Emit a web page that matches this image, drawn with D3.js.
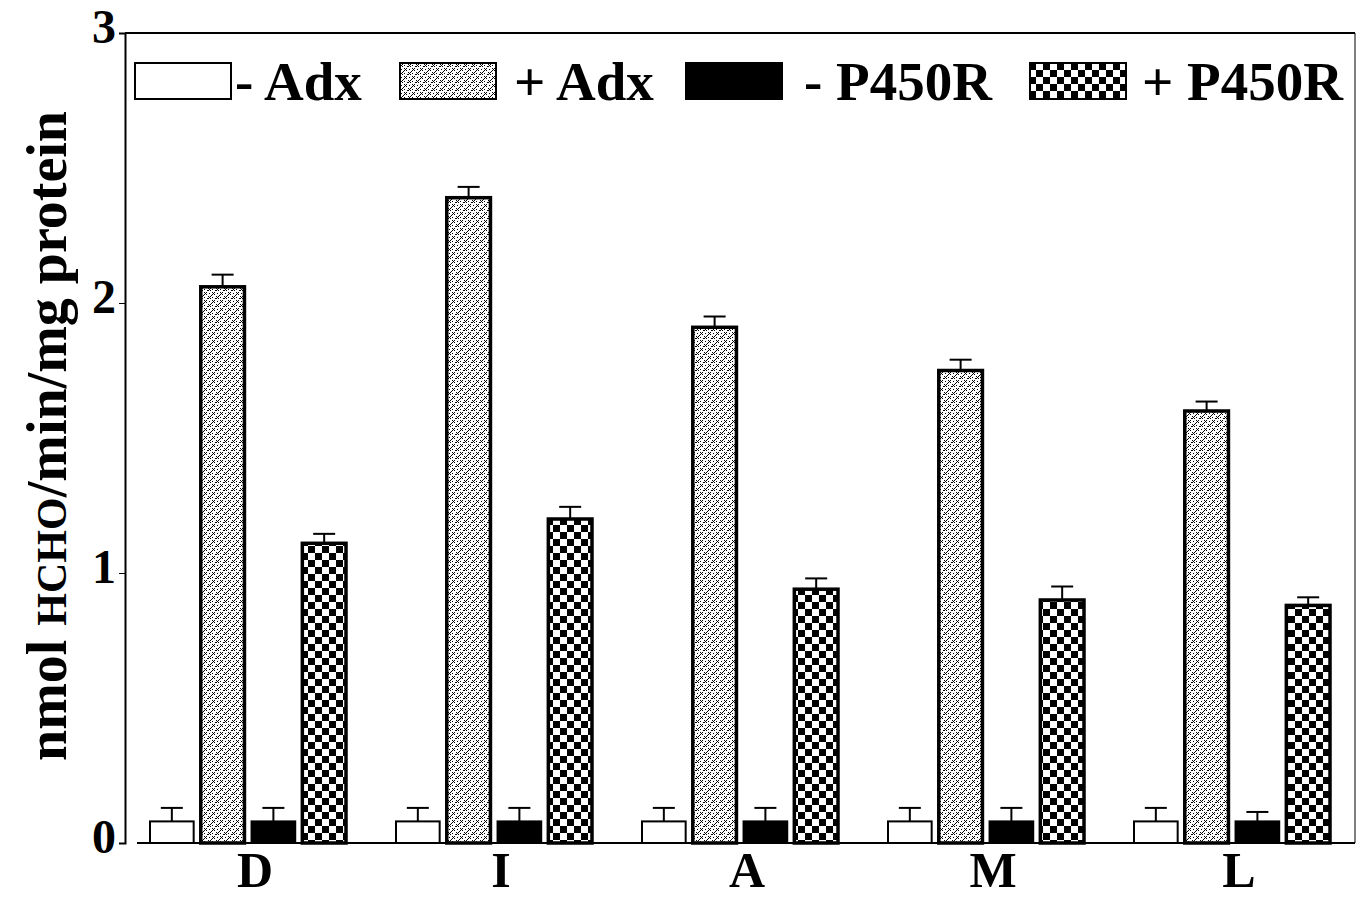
<!DOCTYPE html>
<html lang="en">
  <head>
    <meta charset="UTF-8" />
    <title>HCHO formation</title>
    <script src="https://d3js.org/d3.v7.min.js"></script>
    <style>
      body { margin: 0; background: #fff; }
      svg { display: block; }
      text { font-family: "Liberation Serif", "DejaVu Serif", serif; font-weight: bold; fill: #000; }
    </style>
  </head>
  <body>
    <script>
      // data
      const groups = ["D", "I", "A", "M", "L"];
      const seriesNames = ["- Adx", "+ Adx", "- P450R", "+ P450R"];
      const minusAdx = [0.08, 0.08, 0.08, 0.08, 0.08];
      const plusAdx = [2.06, 2.39, 1.91, 1.75, 1.60];
      const minusP450R = [0.08, 0.08, 0.08, 0.08, 0.08];
      const plusP450R = [1.11, 1.20, 0.94, 0.90, 0.88];
      const errMinusAdx = [0.05, 0.05, 0.05, 0.05, 0.05];
      const errPlusAdx = [0.045, 0.04, 0.04, 0.04, 0.035];
      const errMinusP450R = [0.05, 0.05, 0.05, 0.05, 0.035];
      const errPlusP450R = [0.035, 0.045, 0.04, 0.05, 0.03];
      const yTicks = [0, 1, 2, 3];

      const W = 1357, H = 897;
      const svg = d3.select("body").append("svg").attr("width", W).attr("height", H);

      // patterns
      const defs = svg.append("defs");
      const stip = defs.append("pattern").attr("id", "stip")
        .attr("patternUnits", "userSpaceOnUse").attr("width", 8).attr("height", 8);
      stip.append("rect").attr("width", 8).attr("height", 8).attr("fill", "#fff");
      // little x-shaped dot clusters
      [[0,0],[2,0],[1,1],[0,2],[2,2],[4,4],[6,4],[5,5],[4,6],[6,6],[4,1],[1,5],[7,2],[3,7]].forEach(([x, y]) =>
        stip.append("rect").attr("x", x).attr("y", y).attr("width", 1).attr("height", 1).attr("fill", "#000"));
      const chk = defs.append("pattern").attr("id", "chk")
        .attr("patternUnits", "userSpaceOnUse").attr("width", 14).attr("height", 14);
      chk.append("rect").attr("width", 14).attr("height", 14).attr("fill", "#fff");
      chk.append("rect").attr("width", 7).attr("height", 7).attr("fill", "#000");
      chk.append("rect").attr("x", 7).attr("y", 7).attr("width", 7).attr("height", 7).attr("fill", "#000");

      const fills = ["#fff", "url(#stip)", "#000", "url(#chk)"];
      const strokeW = [2, 3.5, 2, 3.5];

      const x0 = d3.scaleBand().domain(groups).range([125, 1355]).paddingInner(0).paddingOuter(0);
      const x1 = d3.scaleBand().domain(seriesNames).range([25, 221]).paddingInner(0.14);
      const y = d3.scaleLinear().domain([0, 3]).range([843, 33]);

      const values = [minusAdx, plusAdx, minusP450R, plusP450R];
      const errs = [errMinusAdx, errPlusAdx, errMinusP450R, errPlusP450R];

      // frame
      svg.append("line").attr("x1", 125).attr("x2", 1355).attr("y1", y(3)).attr("y2", y(3))
        .attr("stroke", "#000").attr("stroke-width", 2);
      svg.append("line").attr("x1", 1355).attr("x2", 1355).attr("y1", y(3)).attr("y2", y(0))
        .attr("stroke", "#000").attr("stroke-width", 1);
      svg.append("line").attr("x1", 137).attr("x2", 1355).attr("y1", y(0)).attr("y2", y(0))
        .attr("stroke", "#000").attr("stroke-width", 2);

      // y axis
      const yAxis = svg.append("g").attr("transform", "translate(125,0)")
        .call(d3.axisLeft(y).tickValues(yTicks).tickFormat(d3.format("d")).tickSize(6).tickPadding(3));
      yAxis.select(".domain").attr("stroke-width", 2);
      yAxis.selectAll("text").attr("font-size", 48).attr("font-family", "Liberation Serif, serif")
        .attr("font-weight", "bold").attr("dy", "0.2em");

      // bars
      const g = svg.append("g");
      groups.forEach((grp, i) => {
        const gx = x0(grp);
        seriesNames.forEach((s, j) => {
          const v = values[j][i], e = errs[j][i];
          const bx = gx + x1(s), bw = x1.bandwidth();
          const cx = bx + bw / 2;
          g.append("line").attr("x1", cx).attr("x2", cx).attr("y1", y(v)).attr("y2", y(v + e))
            .attr("stroke", "#000").attr("stroke-width", 2);
          g.append("line").attr("x1", cx - 11).attr("x2", cx + 11).attr("y1", y(v + e)).attr("y2", y(v + e))
            .attr("stroke", "#000").attr("stroke-width", 2);
          g.append("rect").attr("x", bx).attr("y", y(v)).attr("width", bw).attr("height", y(0) - y(v))
            .attr("fill", fills[j]).attr("stroke", "#000").attr("stroke-width", strokeW[j]);
        });
        svg.append("text").attr("x", gx + 130).attr("y", 887).attr("text-anchor", "middle")
          .attr("font-size", 50).text(grp);
      });

      // legend
      const legBoxX = [135, 400, 686, 1030];
      const legTextX = [235, 514, 804, 1142];
      seriesNames.forEach((s, j) => {
        svg.append("rect").attr("x", legBoxX[j]).attr("y", 63).attr("width", 96).attr("height", 36)
          .attr("fill", fills[j]).attr("stroke", "#000").attr("stroke-width", 2);
        svg.append("text").attr("x", legTextX[j]).attr("y", 100).attr("font-size", 55).text(s);
      });

      // y label
      const yl = svg.append("text").attr("transform", "translate(66,436) rotate(-90)")
        .attr("text-anchor", "middle").attr("font-size", 56);
      yl.append("tspan").text("nmol ");
      yl.append("tspan").attr("font-size", 42).text("HCHO");
      yl.append("tspan").text("/min/mg protein");
    </script>
  </body>
</html>
